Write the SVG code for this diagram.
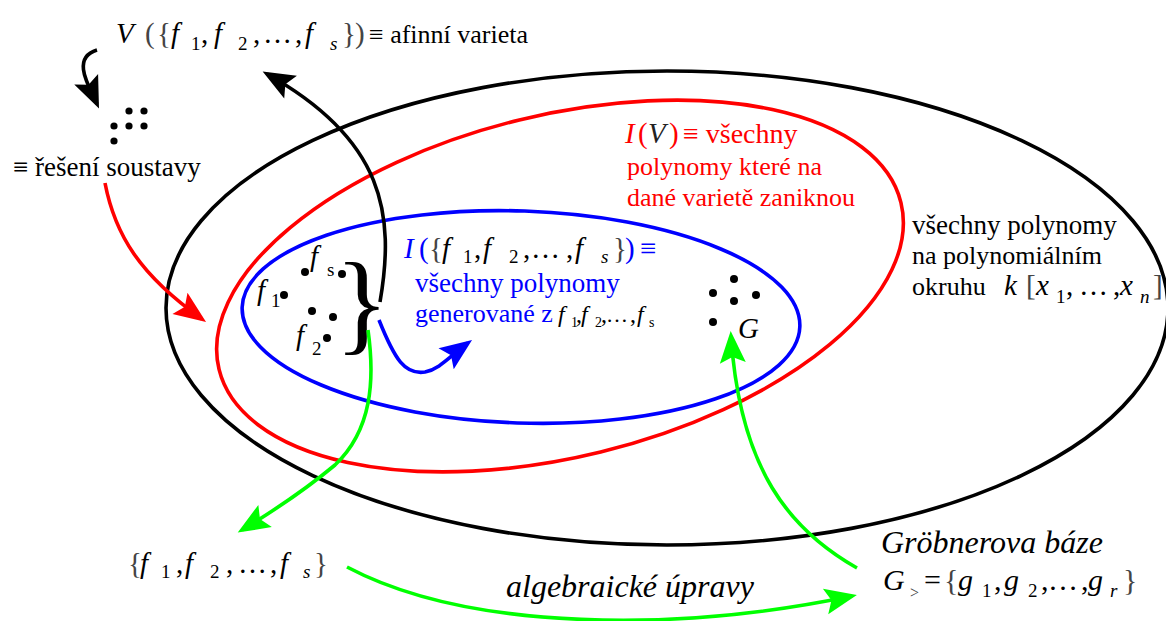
<svg xmlns="http://www.w3.org/2000/svg" width="1166" height="621" viewBox="0 0 1166 621">
<style>
text{font-family:"Liberation Serif","Times New Roman",serif;fill:#000}
.t{font-family:"Liberation Serif","Times New Roman",serif;font-size:27px}
.m{font-size:29px}
.it{font-style:italic}
.sub{font-size:19px}
.g{fill:#444}
.red{fill:#ff0000}
.blue{fill:#0000ff}
.loop{fill:none;stroke-width:3.6}
.c{fill:none;stroke-width:3.6}
.dot{fill:#000}
</style>
<defs>
<marker id="ak" viewBox="-34 -15 36 30" refX="-5" refY="0" markerWidth="36" markerHeight="30" markerUnits="userSpaceOnUse" orient="auto"><path d="M0,0 L-32,-13 L-26,0 L-32,13 Z" fill="#000"/></marker>
<marker id="ar" viewBox="-34 -15 36 30" refX="-5" refY="0" markerWidth="36" markerHeight="30" markerUnits="userSpaceOnUse" orient="auto"><path d="M0,0 L-32,-13 L-26,0 L-32,13 Z" fill="#ff0000"/></marker>
<marker id="ab" viewBox="-34 -15 36 30" refX="-5" refY="0" markerWidth="36" markerHeight="30" markerUnits="userSpaceOnUse" orient="auto"><path d="M0,0 L-32,-13 L-26,0 L-32,13 Z" fill="#0000ff"/></marker>
<marker id="ag" viewBox="-34 -15 36 30" refX="-5" refY="0" markerWidth="36" markerHeight="30" markerUnits="userSpaceOnUse" orient="auto"><path d="M0,0 L-32,-13 L-26,0 L-32,13 Z" fill="#00ff00"/></marker>
</defs>
<rect width="1166" height="621" fill="#fff"/>

<g id="ring-all">
<ellipse class="loop" cx="667" cy="308" rx="501" ry="237" stroke="#000"/>
<text class="t" x="912" y="234">všechny polynomy</text>
<text class="t" x="912" y="264" style="font-size:26px">na polynomiálním</text>
<text class="t" x="912" y="295" style="font-size:26px">okruhu</text>
<text class="m"><tspan class="it" x="1004" y="295">k</tspan><tspan class="g" x="1026" y="295">[</tspan><tspan class="it" x="1036" y="295">x</tspan><tspan class="sub" x="1056" y="303">1</tspan><tspan x="1066" y="295">,</tspan><tspan x="1079" y="295">…</tspan><tspan x="1113" y="295">,</tspan><tspan class="it" x="1120" y="295">x</tspan><tspan class="sub it" x="1140" y="303">n</tspan><tspan class="g" x="1153" y="295">]</tspan></text>
</g>

<g id="ring-iv">
<ellipse class="loop" cx="560" cy="286" rx="351" ry="171" stroke="#ff0000" transform="rotate(-13.75 560 286)"/>
<text class="m"><tspan class="it red" x="625" y="143">I</tspan><tspan class="red" x="638" y="143">(</tspan><tspan class="it" fill="#222" x="648" y="143">V</tspan><tspan class="red" x="669" y="143">)</tspan></text>
<text class="t red" x="683" y="143" style="font-size:28px">≡ všechny</text>
<text class="t red" x="627" y="175" style="font-size:26px">polynomy které na</text>
<text class="t red" x="627" y="206" style="font-size:26px">dané varietě zaniknou</text>
</g>

<g id="ring-ideal">
<ellipse class="loop" cx="521" cy="317" rx="279" ry="106" stroke="#0000ff" transform="rotate(2 521 317)"/>
<text class="m"><tspan class="it blue" x="404" y="258">I</tspan><tspan class="blue" x="419" y="258">(</tspan><tspan class="g" x="429" y="258">{</tspan><tspan class="it" x="442" y="258">f</tspan><tspan class="sub" x="463" y="263">1</tspan><tspan x="474" y="258">,</tspan><tspan class="it" x="483" y="258">f</tspan><tspan class="sub" x="509" y="263">2</tspan><tspan x="523" y="258">,</tspan><tspan x="531" y="258">…</tspan><tspan x="566" y="258">,</tspan><tspan class="it" x="575" y="258">f</tspan><tspan class="sub it" x="601" y="263">s</tspan><tspan class="g" x="613" y="258">}</tspan><tspan class="blue" x="625" y="258">)</tspan><tspan class="blue" x="640" y="258">≡</tspan></text>
<text class="t blue" x="415" y="292">všechny polynomy</text>
<text class="t blue" x="415" y="322" style="font-size:26px">generované z</text>
<text style="font-size:24px"><tspan class="it" x="558" y="322">f</tspan><tspan style="font-size:14px" x="571" y="327">1</tspan><tspan x="576" y="322">,</tspan><tspan class="it" x="581" y="322">f</tspan><tspan style="font-size:14px" x="595" y="327">2</tspan><tspan x="601" y="322">,</tspan><tspan style="font-size:22px" x="606" y="322">…</tspan><tspan x="630" y="322">,</tspan><tspan class="it" x="637" y="322">f</tspan><tspan style="font-size:14px" x="649" y="327">s</tspan></text>
</g>

<g id="generators">
<circle class="dot" cx="284" cy="295" r="4"/>
<circle class="dot" cx="305" cy="272" r="4"/>
<circle class="dot" cx="342" cy="274" r="4"/>
<circle class="dot" cx="312" cy="311" r="4"/>
<circle class="dot" cx="333" cy="317" r="4"/>
<circle class="dot" cx="327" cy="338" r="4"/>
<text class="m"><tspan class="it" x="257" y="300">f</tspan><tspan class="sub" x="271" y="307">1</tspan></text>
<text class="m"><tspan class="it" x="310" y="266">f</tspan><tspan class="sub" x="327" y="276">s</tspan></text>
<text class="m"><tspan class="it" x="296" y="345">f</tspan><tspan class="sub" x="312" y="355">2</tspan></text>
<text x="335" y="340" style="font-size:112px">}</text>
</g>

<g id="groebner-points">
<circle class="dot" cx="734" cy="279" r="4"/>
<circle class="dot" cx="713" cy="293" r="4"/>
<circle class="dot" cx="734" cy="301" r="4"/>
<circle class="dot" cx="756" cy="295" r="4"/>
<circle class="dot" cx="713" cy="322" r="4"/>
<text class="m it" x="738" y="338">G</text>
</g>

<g id="variety">
<text class="m"><tspan class="it" x="116" y="43">V</tspan><tspan class="g" x="145" y="43">(</tspan><tspan class="g" x="157" y="43">{</tspan><tspan class="it" x="171" y="43">f</tspan><tspan class="sub" x="191" y="50">1</tspan><tspan x="201" y="43">,</tspan><tspan class="it" x="214" y="43">f</tspan><tspan class="sub" x="238" y="50">2</tspan><tspan x="253" y="43">,</tspan><tspan x="263" y="43">…</tspan><tspan x="295" y="43">,</tspan><tspan class="it" x="305" y="43">f</tspan><tspan class="sub it" x="330" y="50">s</tspan><tspan class="g" x="342" y="43">}</tspan><tspan class="g" x="355" y="43">)</tspan></text>
<text class="t" x="369" y="43" style="font-size:26px">≡ afinní varieta</text>
</g>

<g id="solutions">
<circle class="dot" cx="129" cy="111" r="3.6"/>
<circle class="dot" cx="144" cy="111" r="3.6"/>
<circle class="dot" cx="114" cy="126" r="3.6"/>
<circle class="dot" cx="129" cy="126" r="3.6"/>
<circle class="dot" cx="144" cy="126" r="3.6"/>
<circle class="dot" cx="114" cy="141" r="3.6"/>
<text class="t" x="13" y="176">≡ řešení soustavy</text>
</g>

<g id="system">
<text class="m"><tspan class="g" x="128" y="573">{</tspan><tspan class="it" x="140" y="573">f</tspan><tspan class="sub" x="161" y="578">1</tspan><tspan x="176" y="573">,</tspan><tspan class="it" x="185" y="573">f</tspan><tspan class="sub" x="210" y="578">2</tspan><tspan x="226" y="573">,</tspan><tspan x="238" y="573">…</tspan><tspan x="270" y="573">,</tspan><tspan class="it" x="280" y="573">f</tspan><tspan class="sub it" x="303" y="578">s</tspan><tspan class="g" x="314" y="573">}</tspan></text>
</g>

<g id="basis">
<text class="it" style="font-size:32px" x="881" y="553">Gröbnerova báze</text>
<text style="font-size:30px"><tspan class="it" x="883" y="590">G</tspan><tspan class="g" style="font-size:16px" x="910" y="598">&gt;</tspan><tspan x="924" y="590">=</tspan><tspan class="g" x="944" y="590">{</tspan><tspan class="it" x="958" y="590">g</tspan><tspan class="sub" x="982" y="597">1</tspan><tspan x="994" y="590">,</tspan><tspan class="it" x="1004" y="590">g</tspan><tspan class="sub" x="1028" y="597">2</tspan><tspan x="1041" y="590">,</tspan><tspan x="1048" y="590">…</tspan><tspan x="1081" y="590">,</tspan><tspan class="it" x="1088" y="590">g</tspan><tspan class="sub it" x="1110" y="597">r</tspan><tspan class="g" x="1123" y="590">}</tspan></text>
</g>

<g id="connectors">
<path class="c" stroke="#000" d="M97,50 C70,58 90,88 97,104" marker-end="url(#ak)"/>
<path class="c" stroke="#000" d="M380,302 C395,215 385,140 267,74" marker-end="url(#ak)"/>
<path class="c" stroke="#ff0000" d="M105,183 C115,235 140,275 202,319" marker-end="url(#ar)"/>
<path class="c" stroke="#0000ff" d="M379,320 C395,360 405,375 425,372 C440,369 450,356 468,343" marker-end="url(#ab)"/>
<path class="c" stroke="#00ff00" d="M368,330 C375,380 372,430 335,465 C305,490 275,510 242,530" marker-end="url(#ag)"/>
<path class="c" stroke="#00ff00" d="M347,567 C470,632 680,632 852,596" marker-end="url(#ag)"/>
<path class="c" stroke="#00ff00" d="M857,568 C790,530 740,470 731,336" marker-end="url(#ag)"/>
<text class="it" style="font-size:32px" x="506" y="597">algebraické úpravy</text>
</g>
</svg>
